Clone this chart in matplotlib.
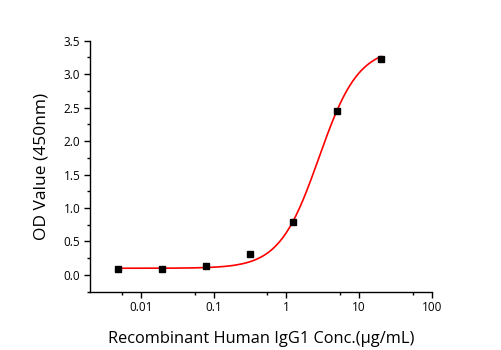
import numpy as np
import matplotlib
matplotlib.use("Agg")
import matplotlib.pyplot as plt
from matplotlib.ticker import FixedLocator, FixedFormatter, MultipleLocator

# Data
conc = [0.0049, 0.0195, 0.078, 0.3125, 1.25, 5.0, 20.0]
od = [0.09, 0.095, 0.13, 0.32, 0.79, 2.45, 3.22]
# 4PL fit parameters (bottom, top, EC50, hill)
fit_bottom, fit_top, fit_ec50, fit_hill = 0.10, 3.40, 2.8, 1.6
xticks = [0.01, 0.1, 1, 10, 100]
xticklabels = ["0.01", "0.1", "1", "10", "100"]

plt.rcParams['font.family'] = ['Open Sans', 'DejaVu Sans']

fig = plt.figure(figsize=(5.01, 3.5), dpi=100)
ax = fig.add_axes([0.1796, 0.1666, 0.862 - 0.1796, 0.8837 - 0.1666])

xs = np.logspace(np.log10(conc[0]), np.log10(conc[-1]), 300)
ys = fit_bottom + (fit_top - fit_bottom) / (1 + (fit_ec50 / xs) ** fit_hill)
ax.plot(xs, ys, color='#ff0000', lw=1.2, zorder=2)
ax.plot(conc, od, 's', color='black', ms=5, zorder=3)

ax.set_xscale('log')
ax.set_xlim(0.002, 100)
ax.set_ylim(-0.25, 3.5)
ax.xaxis.set_major_locator(FixedLocator(xticks))
ax.xaxis.set_major_formatter(FixedFormatter(xticklabels))
ax.xaxis.set_minor_locator(FixedLocator([0.0055, 0.055, 0.55, 5.5, 55]))
ax.xaxis.set_minor_formatter(FixedFormatter([]))
ax.yaxis.set_major_locator(MultipleLocator(0.5))
ax.yaxis.set_minor_locator(MultipleLocator(0.25))
ax.yaxis.set_major_formatter(plt.FuncFormatter(lambda v, p: f"{v:.1f}"))

for s in ['top', 'right']:
    ax.spines[s].set_visible(False)
for s in ['left', 'bottom']:
    ax.spines[s].set_linewidth(1.0)
ax.tick_params(which='major', direction='out', length=4, width=1.0, labelsize=8.5, pad=3)
ax.tick_params(which='minor', direction='out', length=2.5, width=1.0)

ax.set_xlabel('Recombinant Human IgG1 Conc.(μg/mL)', fontsize=11.8, labelpad=12)
ax.set_ylabel('OD Value (450nm)', fontsize=12.5, labelpad=10)

fig.savefig('out.png', dpi=100)
